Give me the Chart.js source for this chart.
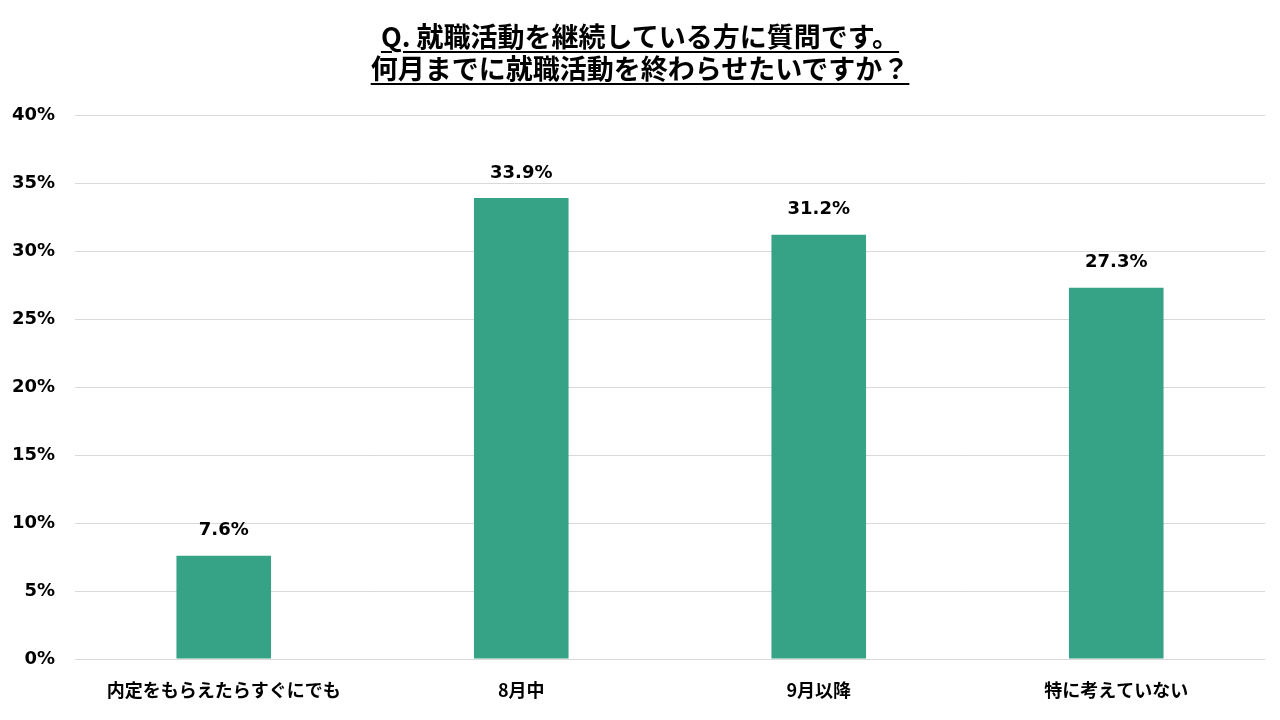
<!DOCTYPE html>
<html>
<head>
<meta charset="utf-8">
<script src="https://cdn.jsdelivr.net/npm/chart.js@4"></script>
<style>
html,body{margin:0;padding:0;background:#fff;}
#wrap{position:relative;width:1280px;height:720px;}
#title{position:absolute;left:0;top:20px;width:1280px;text-align:center;font-family:"Noto Sans CJK JP","Noto Sans",sans-serif;font-weight:bold;font-size:27px;line-height:32px;color:#000;}
#title span{text-decoration:underline;text-underline-offset:4px;text-decoration-thickness:2px;}
canvas{position:absolute;left:0;top:0;}
</style>
</head>
<body>
<div id="wrap">
<canvas id="c" width="1280" height="720"></canvas>
<div id="title"><span>Q. 就職活動を継続している方に質問です。</span><br><span>何月までに就職活動を終わらせたいですか？</span></div>
</div>
<script>
const categories = ["内定をもらえたらすぐにでも", "8月中", "9月以降", "特に考えていない"];
const values = [7.6, 33.9, 31.2, 27.3];
const yTicks = [0, 5, 10, 15, 20, 25, 30, 35, 40];

const FONT = '"Noto Sans CJK JP","Noto Sans",sans-serif';
const NUMFONT = '"DejaVu Sans","Noto Sans CJK JP",sans-serif';
const barLabels = {
  id: 'barLabels',
  afterDatasetsDraw(chart) {
    const ctx = chart.ctx;
    const meta = chart.getDatasetMeta(0);
    ctx.save();
    ctx.font = 'bold 18px ' + NUMFONT;
    ctx.fillStyle = '#000';
    ctx.textAlign = 'center';
    ctx.textBaseline = 'middle';
    meta.data.forEach((bar, i) => {
      ctx.fillText(values[i].toFixed(1) + '%', bar.x, bar.y - 25);
    });
    ctx.restore();
  }
};

new Chart(document.getElementById('c'), {
  type: 'bar',
  data: {
    labels: categories,
    datasets: [{
      data: values,
      backgroundColor: '#36A286',
      categoryPercentage: 1.0,
      barPercentage: 0.318
    }]
  },
  options: {
    responsive: false,
    animation: false,
    layout: { padding: { top: 115, right: 15, left: 0, bottom: 0 } },
    plugins: { legend: { display: false }, tooltip: { enabled: false } },
    scales: {
      x: {
        grid: { display: false, drawTicks: false },
        border: { display: false },
        ticks: { color: '#000', font: { family: FONT, weight: 'bold', size: 18 }, padding: 20, maxRotation: 0 },
        afterFit(s) { s.height = 61; }
      },
      y: {
        min: 0, max: 40,
        afterBuildTicks(s) { s.ticks = yTicks.map(v => ({ value: v })); },
        grid: { color: '#d9d9d9', lineWidth: 1, drawTicks: false },
        border: { display: false },
        ticks: { color: '#000', font: { family: NUMFONT, weight: 'bold', size: 18 }, padding: 20, callback: v => v + '%' },
        afterFit(s) { s.width = 75; }
      }
    }
  },
  plugins: [barLabels]
});
</script>
</body>
</html>
